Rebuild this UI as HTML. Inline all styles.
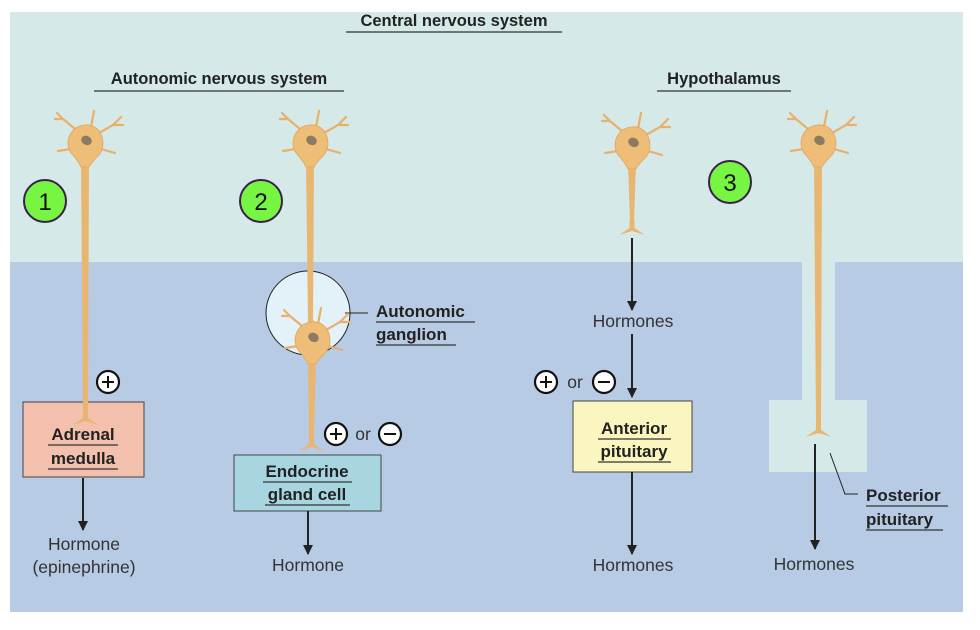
<!DOCTYPE html>
<html><head><meta charset="utf-8"><style>
body{margin:0;background:#fff;}
svg{display:block;font-family:"Liberation Sans",sans-serif;}
.h{font-weight:bold;font-size:16.5px;fill:#222;}
.l{font-weight:bold;font-size:17px;fill:#222;}
.t{font-size:17.5px;fill:#333;}
</style></head><body>
<svg width="980" height="630" viewBox="0 0 980 630">
<defs>
<marker id="ar" markerWidth="12" markerHeight="12" refX="9" refY="5" orient="auto" markerUnits="userSpaceOnUse">
<path d="M0,0 L10,5 L0,10 Z" fill="#222"/>
</marker>
<g id="body">
<g stroke="#e9b06a" stroke-width="2.2" stroke-linecap="round" fill="none">
<path d="M-10,-14 L-22,-24 L-28,-30 M-22,-24 L-30,-24"/>
<path d="M6,-16 L9,-32"/>
<path d="M14,-10 L28,-18 L36,-26 M28,-18 L38,-18"/>
<path d="M-14,6 L-27,8"/>
<path d="M16,6 L30,10"/>
</g>
<path d="M-14,-10 Q-8,-19 4,-18 Q14,-16 17,-6 Q20,4 14,12 Q6,20 4,24 L-4,24 Q-8,16 -14,10 Q-20,0 -14,-10 Z" fill="#eebd78" stroke="#dfa45c" stroke-width="0.8"/>
<ellipse cx="0" cy="-3" rx="5.5" ry="4.5" fill="#8c7a62" transform="rotate(30)"/>
</g>
<path id="fork" d="M-2.5,-10 L-2.5,-2 L-13,5 L0,1 L13,5 L2.5,-2 L2.5,-10 Z" fill="#e9b672"/>
</defs>
<rect x="10" y="12" width="953" height="250" fill="#d5e9e8"/>
<rect x="10" y="262" width="953" height="350" fill="#b8cbe4"/>
<rect x="802" y="262" width="33" height="140" fill="#d5e9e8"/>
<rect x="769" y="400" width="98" height="72" fill="#d5e9e8"/>
<text class="h" x="454" y="26" text-anchor="middle">Central nervous system</text>
<line x1="346" y1="32" x2="562" y2="32" stroke="#333" stroke-width="1.2"/>
<text class="h" x="219" y="84" text-anchor="middle">Autonomic nervous system</text>
<line x1="94" y1="91" x2="344" y2="91" stroke="#333" stroke-width="1.2"/>
<text class="h" x="724" y="84" text-anchor="middle">Hypothalamus</text>
<line x1="657" y1="91" x2="791" y2="91" stroke="#333" stroke-width="1.2"/>
<g stroke="#3a1f4a" stroke-width="2" fill="#76f542">
<circle cx="45" cy="201" r="21"/><circle cx="261" cy="201" r="21"/><circle cx="730" cy="182" r="21"/>
</g>
<g font-size="24" fill="#111" text-anchor="middle">
<text x="45" y="210">1</text><text x="261" y="210">2</text><text x="730" y="191">3</text>
</g>
<rect x="23" y="402" width="121" height="75" fill="#f2c0ad" stroke="#444" stroke-width="1"/>
<rect x="234" y="455" width="147" height="56" fill="#a8d6e0" stroke="#444" stroke-width="1"/>
<rect x="573" y="401" width="119" height="71" fill="#fbf6bf" stroke="#444" stroke-width="1"/>
<circle cx="308" cy="313" r="42" fill="#e3f1f8" stroke="#222" stroke-width="1"/>
<line x1="345" y1="313" x2="368" y2="313" stroke="#222" stroke-width="1"/>
<g fill="#e9b672">
<path d="M81,160 L89,160 L88,412 L83,412 Z"/>
<path d="M306,160 L314,160 L313,322 L308,322 Z"/>
<path d="M308,357 L316,357 L314,438 L309,438 Z"/>
<path d="M628,162 L636,162 L634,222 L630,222 Z"/>
<path d="M814,160 L822,160 L821,424 L816,424 Z"/>
</g>
<use href="#fork" x="85.5" y="420"/>
<use href="#fork" x="311" y="330"/>
<use href="#fork" x="311.5" y="446"/>
<use href="#fork" x="632" y="230"/>
<use href="#fork" x="818.5" y="432"/>
<use href="#body" x="85" y="143"/>
<use href="#body" x="310" y="143"/>
<use href="#body" x="312" y="340"/>
<use href="#body" x="632" y="145"/>
<use href="#body" x="818" y="143"/>
<g stroke="#222" stroke-width="2" marker-end="url(#ar)">
<line x1="83" y1="478" x2="83" y2="530"/>
<line x1="308" y1="511" x2="308" y2="554"/>
<line x1="632" y1="238" x2="632" y2="310"/>
<line x1="632" y1="334" x2="632" y2="397"/>
<line x1="632" y1="472" x2="632" y2="554"/>
<line x1="815" y1="444" x2="815" y2="549"/>
</g>
<polyline points="830,453 845,494 858,494" fill="none" stroke="#222" stroke-width="1"/>
<g fill="#fff" stroke="#111" stroke-width="2.2">
<circle cx="108" cy="382" r="11"/><circle cx="336" cy="434" r="11"/><circle cx="390" cy="434" r="11"/>
<circle cx="546" cy="382" r="11"/><circle cx="604" cy="382" r="11"/>
</g>
<g stroke="#111" stroke-width="2">
<path d="M102,382 H114 M108,376 V388"/>
<path d="M330,434 H342 M336,428 V440"/>
<path d="M384,434 H396"/>
<path d="M540,382 H552 M546,376 V388"/>
<path d="M598,382 H610"/>
</g>
<text class="t" x="363" y="440" text-anchor="middle">or</text>
<text class="t" x="575" y="388" text-anchor="middle">or</text>
<g text-anchor="middle">
<text class="l" x="83" y="440">Adrenal</text>
<text class="l" x="83" y="464">medulla</text>
<text class="l" x="307" y="477">Endocrine</text>
<text class="l" x="307" y="500">gland cell</text>
<text class="l" x="634" y="434">Anterior</text>
<text class="l" x="634" y="457">pituitary</text>
</g>
<g stroke="#333" stroke-width="1.2">
<line x1="48" y1="445" x2="118" y2="445"/><line x1="48" y1="469" x2="118" y2="469"/>
<line x1="263" y1="482" x2="352" y2="482"/><line x1="265" y1="505" x2="350" y2="505"/>
<line x1="598" y1="439" x2="671" y2="439"/><line x1="598" y1="462" x2="671" y2="462"/>
<line x1="376" y1="322" x2="475" y2="322"/><line x1="376" y1="345" x2="456" y2="345"/>
<line x1="866" y1="506" x2="948" y2="506"/><line x1="866" y1="530" x2="943" y2="530"/>
</g>
<text class="l" x="376" y="317">Autonomic</text>
<text class="l" x="376" y="340">ganglion</text>
<text class="l" x="866" y="501">Posterior</text>
<text class="l" x="866" y="525">pituitary</text>
<g text-anchor="middle">
<text class="t" x="84" y="550">Hormone</text>
<text class="t" x="84" y="573">(epinephrine)</text>
<text class="t" x="308" y="571">Hormone</text>
<text class="t" x="633" y="327">Hormones</text>
<text class="t" x="633" y="571">Hormones</text>
<text class="t" x="814" y="570">Hormones</text>
</g>
</svg>
</body></html>
